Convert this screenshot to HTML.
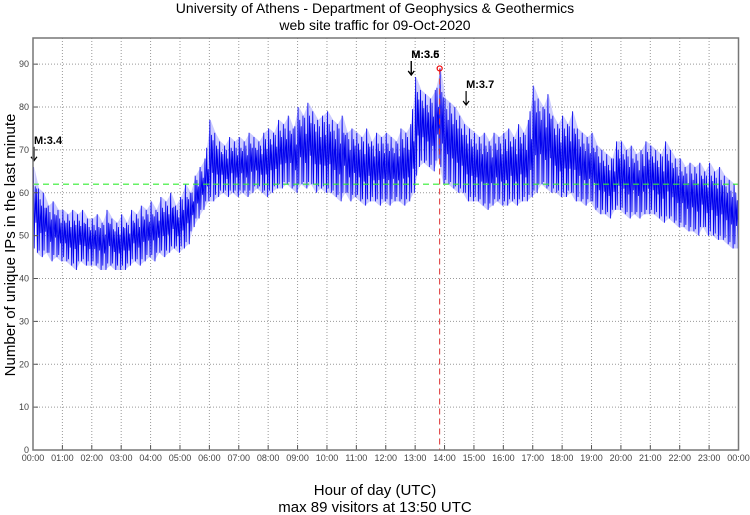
<!DOCTYPE html>
<html><head><meta charset="utf-8"><style>
body{margin:0;background:#fff;}
svg{display:block;font-family:"Liberation Sans",sans-serif;}
</style></head><body>
<svg id="chart" width="750" height="515" viewBox="0 0 750 515">
<text x="375" y="13" text-anchor="middle" font-size="14">University of Athens - Department of Geophysics &amp; Geothermics</text>
<text x="375" y="30" text-anchor="middle" font-size="14">web site traffic for 09-Oct-2020</text>
<text x="375" y="495" text-anchor="middle" font-size="15">Hour of day (UTC)</text>
<text x="375" y="512" text-anchor="middle" font-size="15">max 89 visitors at 13:50 UTC</text>
<text transform="translate(15,245) rotate(-90)" text-anchor="middle" font-size="15">Number of unique IPs in the last minute</text>
<g id="grid"></g><g id="series"></g><g id="ann"></g><g id="axes"></g>
</svg>
<script>
const hours=["00:00","01:00","02:00","03:00","04:00","05:00","06:00","07:00","08:00","09:00","10:00","11:00","12:00","13:00","14:00","15:00","16:00","17:00","18:00","19:00","20:00","21:00","22:00","23:00","00:00"];
const yTicks=[0,10,20,30,40,50,60,70,80,90];
const hiVals=[66,61,60,57,58,56, 56,55,56,55,56,54, 54,55,53,56,54,53, 55,53,56,55,57,56, 58,56,59,58,60,57, 59,62,60,64,66,68, 77,74,72,71,73,72, 73,72,74,73,72,74, 75,74,77,76,78,75, 80,78,81,79,77,78, 79,77,76,78,74,75, 74,73,75,72,74,73, 74,73,72,75,74,76, 87,84,83,82,84,89, 82,81,80,78,76,75, 74,73,74,72,74,73, 74,75,73,76,74,77, 85,82,80,83,78,76, 78,76,79,75,74,73, 74,71,70,69,68,72, 72,70,71,69,70,72, 71,70,69,72,70,68, 68,66,67,66,67,65, 67,65,66,64,63,62];
const loVals=[46,45,46,44,45,44, 44,43,42,44,43,43, 43,42,42,43,42,42, 42,43,44,43,44,45, 44,46,45,46,47,46, 47,48,52,54,56,58, 58,59,60,59,60,59, 60,59,60,61,60,59, 60,61,61,62,61,60, 62,61,62,60,61,60, 60,59,58,60,58,59, 58,57,58,58,57,58, 57,58,58,57,58,60, 66,67,66,65,68,62, 62,61,60,60,58,58, 58,57,56,57,58,57, 57,58,57,58,58,59, 60,62,61,60,60,59, 59,60,58,58,57,58, 56,55,55,54,56,56, 55,54,55,54,55,55, 55,54,53,54,53,52, 52,51,51,50,52,50, 50,49,49,48,47,47];
const meanVal=62, maxVal=89, maxMinute=830;
const quakes=[{label:"M:3.4",minute:2,val:67},{label:"M:3.5",minute:772,val:87},{label:"M:3.6",minute:772,val:87},{label:"M:3.7",minute:884,val:80}];

const L=33,R=738.5,T=38,B=450,YMAX=96.1;
const x=m=>L+(R-L)*m/1440;
const y=v=>B-(B-T)*v/YMAX;
const NS="http://www.w3.org/2000/svg";
function mk(tag,attrs,parent){const e=document.createElementNS(NS,tag);for(const k in attrs)e.setAttribute(k,attrs[k]);parent.appendChild(e);return e;}
const grid=document.getElementById('grid'),axes=document.getElementById('axes'),ser=document.getElementById('series'),ann=document.getElementById('ann');
yTicks.forEach(v=>{
 if(v>0){const g=mk('line',{x1:L,x2:R,y1:y(v),y2:y(v),stroke:'#999','stroke-dasharray':'1,2','stroke-width':1},grid);
 
 }
 const t=mk('text',{x:L-4,y:y(v)+3,'text-anchor':'end','font-size':9,fill:'#444'},axes);t.textContent=v;
 
 
 mk('line',{x1:L,x2:L+5,y1:y(v),y2:y(v),stroke:'#555'},axes);
});
hours.forEach((h,i)=>{
 const xx=x(i*60);
 if(i>0&&i<24){const g=mk('line',{x1:xx,x2:xx,y1:T,y2:B,stroke:'#999','stroke-dasharray':'1,2'},grid);
 
 }
 mk('line',{x1:xx,x2:xx,y1:B,y2:B-5,stroke:'#555'},axes);
 const t=mk('text',{x:xx,y:B+11,'text-anchor':'middle','font-size':9,fill:'#444'},axes);t.textContent=h;
 
 
});
const frame=mk('rect',{x:L,y:T,width:R-L,height:B-T,fill:'none',stroke:'#777','stroke-width':1.5},axes);


let up=hiVals.map((v,i)=>x(i*10+2.5)+','+y(v)),dn=loVals.map((v,i)=>x(i*10+7.5)+','+y(v)).reverse();
const band=mk('polygon',{points:up.concat(dn).join(' '),fill:'#8080ff','fill-opacity':0.4,stroke:'none'},ser);


let pts=[];
hiVals.forEach((v,i)=>{const lo=loVals[i],nh=hiVals[Math.min(i+1,hiVals.length-1)],pl=loVals[Math.max(i-1,0)];
 pts.push(x(i*10+1)+','+y(v));
 pts.push(x(i*10+2.5)+','+y((lo+pl)/2+1));
 pts.push(x(i*10+4.5)+','+y((v+nh)/2-2));
 pts.push(x(i*10+6)+','+y(lo+(v-lo)*0.35));
 pts.push(x(i*10+7.5)+','+y(v-(v-lo)*0.25));
 pts.push(x(i*10+9)+','+y(lo));});
const line=mk('polyline',{points:pts.join(' '),fill:'none',stroke:'#0000ee','stroke-width':0.8},ser);


const mean=mk('line',{x1:L,x2:R,y1:y(meanVal),y2:y(meanVal),stroke:'#33ee33','stroke-width':1.2,'stroke-dasharray':'6,4'},ser);


const mv=mk('line',{x1:x(maxMinute),x2:x(maxMinute),y1:y(maxVal),y2:B,stroke:'#dd3333','stroke-width':1,'stroke-dasharray':'6,4'},ser);


const mc=mk('circle',{cx:x(maxMinute),cy:y(maxVal),r:2.5,fill:'none',stroke:'#ee0000','stroke-width':1.2},ser);


quakes.forEach(q=>{
 const xx=x(q.minute),yy=y(q.val)-2;
 const a=mk('line',{x1:xx,x2:xx,y1:yy-14,y2:yy,stroke:'#000','stroke-width':1.2},ann);
 
 
 const h=mk('polyline',{points:(xx-3)+','+(yy-4)+' '+xx+','+yy+' '+(xx+3)+','+(yy-4),fill:'none',stroke:'#000','stroke-width':1.2},ann);
 
 
 const t=mk('text',{x:xx,y:yy-17,'font-size':11,'font-weight':'bold'},ann);t.textContent=q.label;
 
 
});
</script>
</body></html>
